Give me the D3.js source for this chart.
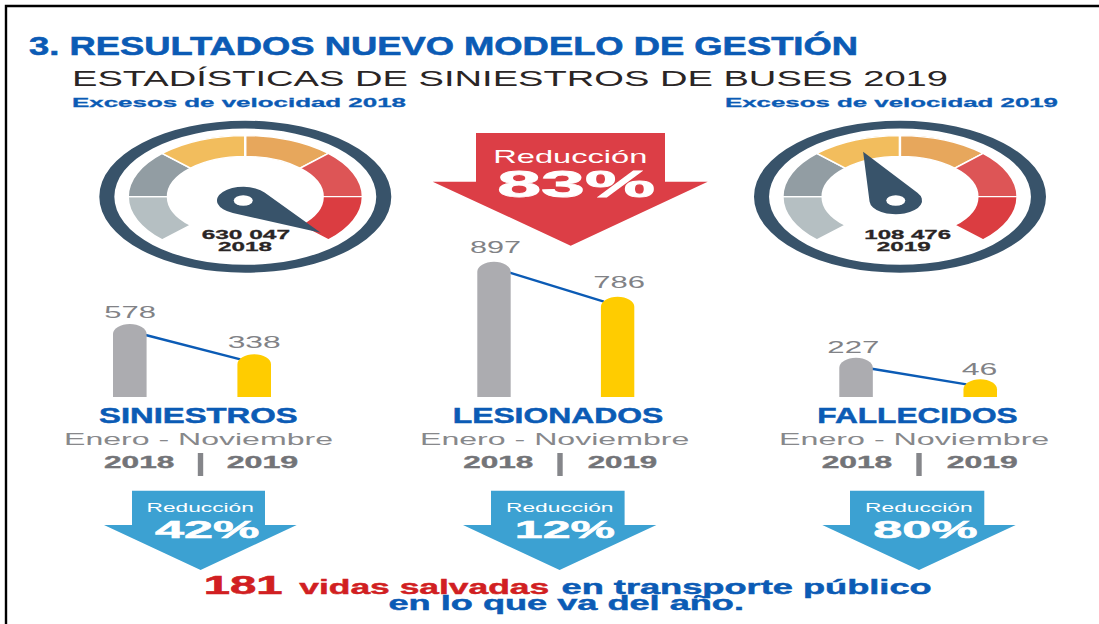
<!DOCTYPE html>
<html lang="es">
<head>
<meta charset="utf-8">
<title>Resultados nuevo modelo de gestión</title>
<script src="https://cdn.jsdelivr.net/npm/d3@7/dist/d3.min.js"></script>
<style>
html,body{margin:0;padding:0;background:#fff;overflow:hidden}
svg{display:block}
text{font-family:"Liberation Sans",Arial,sans-serif}
</style>
</head>
<body>
<svg id="chart" width="1099" height="624"></svg>
<script>
// ---- data ----
const years = ["2018", "2019"];
const categories = ["SINIESTROS", "LESIONADOS", "FALLECIDOS"];
const values2018 = [578, 897, 227];
const values2019 = [338, 786, 46];
const reductions = ["42%", "12%", "80%"];
const speedExcess = [630047, 108476];
const speedExcessLabels = ["630 047", "108 476"];
const gaugeBands = [1, 1, 1, 1, 1, 1];
const overallReduction = "83%";

// ---- style / layout ----
const BLUE = "#0b5bb5", INK = "#2a2525", NAVY = "#38536a", GREY = "#818286";
const bandColors = ["#b5bfc2", "#929da3", "#f2bd5d", "#e7a75c", "#dd5556", "#db3d41"];
const barColors = ["#acacb0", "#ffcc00"];
const svg = d3.select("#chart");

function label(str, x0, x1, base, size, weight, fill) {
  const t = svg.append("text")
    .attr("x", x0).attr("y", base)
    .attr("textLength", x1 - x0).attr("lengthAdjust", "spacingAndGlyphs")
    .attr("font-size", size).attr("font-weight", weight).attr("fill", fill)
    .text(str);
  if (weight === 700) t.attr("stroke", fill).attr("stroke-width", size * 0.022);
  return t;
}
function poly(pts, fill) {
  svg.append("path").attr("d", d3.line()(pts) + "Z").attr("fill", fill);
}

// frame
svg.append("path").attr("d", "M6,624V6H1099").attr("fill", "none").attr("stroke", "#000").attr("stroke-width", 2.4);

// heading
label("3. RESULTADOS NUEVO MODELO DE GESTIÓN", 29, 858, 54.5, 25, 700, BLUE);
label("ESTADÍSTICAS DE SINIESTROS DE BUSES 2019", 72, 948, 86, 21.5, 400, INK);

// ---- gauges ----
const gaugeLayout = [
  {cx: 245.3, hub: -1.4, title: [72, 406], val: [201.7, 290], yr: [218, 272]},
  {cx: 900,   hub: -2.9, title: [725, 1058], val: [864.3, 951], yr: [876.7, 930.7]}
];
const needleAngle = d3.scaleLinear().domain([108476, 630047]).range([-19.2, 128.7]);
const pie = d3.pie().sort(null).startAngle(-135 * Math.PI / 180).endAngle(135 * Math.PI / 180);
const bandArc = d3.arc().innerRadius(53).outerRadius(80.5);
const ringArc = d3.arc().innerRadius(89.7).outerRadius(100).startAngle(0).endAngle(2 * Math.PI);

speedExcess.forEach((v, i) => {
  const L = gaugeLayout[i];
  label("Excesos de velocidad " + years[i], L.title[0], L.title[1], 106.7, 12.5, 700, BLUE);
  const g = svg.append("g").attr("transform", `translate(${L.cx},196.7) scale(1.46,0.76)`);
  g.append("path").attr("d", ringArc()).attr("fill", NAVY);
  g.selectAll("path.band").data(pie(gaugeBands)).join("path")
    .attr("class", "band").attr("d", bandArc)
    .attr("fill", (d, j) => bandColors[j])
    .attr("stroke", "#fff").attr("stroke-width", 1.6);
  const len = 68, r = 18, phi = Math.acos(r / len);
  const tx = r * Math.sin(phi), ty = -r * Math.cos(phi);
  const n = g.append("g").attr("transform", `translate(${L.hub},5) rotate(${needleAngle(v)})`);
  n.append("path").attr("fill", NAVY)
    .attr("d", `M0,${-len}L${tx},${ty}A${r},${r} 0 1 1 ${-tx},${ty}Z`);
  g.append("ellipse").attr("cx", L.hub).attr("cy", 5).attr("rx", 6.5).attr("ry", 7).attr("fill", "#fff");
  label(speedExcessLabels[i], L.val[0], L.val[1], 239, 12.5, 700, INK);
  label(years[i], L.yr[0], L.yr[1], 250.7, 12.5, 700, INK);
});

// ---- big red arrow ----
poly([[476, 133], [665, 133], [665, 181.7], [707.7, 181.7], [570.7, 245.7], [432.7, 181.7], [476, 181.7]], "#dc3e46");
label("Reducción", 493.3, 647.3, 162.7, 18.5, 400, "#fff");
label(overallReduction, 497.3, 655, 196.7, 36, 700, "#fff");

// ---- bar panels ----
const panels = [
  {range: [113, 271],       floor: 0,    top: 324,   gap: 6,   l: [[104.3, 156], [227.7, 280.7]], name: [99, 297.7],   sub: [64, 333],      y1: [104, 174.3],   y2: [226.7, 298.3], sep: 200.5},
  {range: [477.3, 634.3],   floor: 468,  top: 261.7, gap: 8.9, l: [[470, 521], [593.3, 645]],     name: [452.7, 663.3], sub: [420, 689.3],   y1: [463.3, 533.3], y2: [587.7, 657.3], sep: 560},
  {range: [839.3, 997],     floor: -102, top: 357.7, gap: 4.4, l: [[827.3, 879.3], [961.7, 997.3]], name: [817.3, 1017.7], sub: [779, 1049.3], y1: [821.7, 892.3], y2: [946.7, 1017.7], sep: 919}
];
const arrows = [
  {shaft: [132, 265],     head: [104, 296.7],   tip: 200.6, r: [146.6, 253.8], p: [155, 259.5]},
  {shaft: [491, 624.6],   head: [463, 656.4],   tip: 559.6, r: [506, 613.5],   p: [514.8, 615]},
  {shaft: [850, 984.3],   head: [822.3, 1015.7], tip: 919,  r: [865, 972.7],   p: [873.3, 977.7]}
];
const BASE = 397;

categories.forEach((cat, i) => {
  const P = panels[i];
  const vals = [values2018[i], values2019[i]];
  const x = d3.scaleBand().domain(years).range(P.range).paddingInner(0.73);
  const y = d3.scaleLinear().domain([P.floor, values2018[i]]).range([BASE, P.top]);
  const bw = x.bandwidth();

  // connector
  svg.append("path")
    .attr("d", d3.line()([[x(years[0]) + bw - 1, y(vals[0]) + 11], [x(years[1]) + 3, y(vals[1]) + 5]]))
    .attr("fill", "none").attr("stroke", BLUE).attr("stroke-width", 2.4);

  // bars with rounded caps
  svg.selectAll(null).data(vals).join("path")
    .attr("fill", (d, j) => barColors[j])
    .attr("d", (d, j) => {
      const x0 = x(years[j]), top = y(d), ry = Math.min(10, BASE - top);
      return `M${x0},${BASE}V${top + ry}A${bw / 2},${ry} 0 0 1 ${x0 + bw},${top + ry}V${BASE}Z`;
    });

  // value labels
  vals.forEach((v, j) => {
    label(String(v), P.l[j][0], P.l[j][1], y(v) - P.gap, 16.7, 400, GREY);
  });

  label(cat, P.name[0], P.name[1], 423.3, 22, 700, BLUE);
  label("Enero - Noviembre", P.sub[0], P.sub[1], 445, 16.5, 400, "#87888b");
  label(years[0], P.y1[0], P.y1[1], 468.3, 16.5, 700, "#737478");
  label(years[1], P.y2[0], P.y2[1], 468.3, 16.5, 700, "#737478");
  svg.append("rect").attr("x", P.sep - 2.7).attr("y", 453).attr("width", 5.4).attr("height", 23).attr("fill", "#85868a");

  // reduction arrow
  const A = arrows[i];
  poly([[A.shaft[0], 490.7], [A.shaft[1], 490.7], [A.shaft[1], 525], [A.head[1], 525], [A.tip, 570],
        [A.head[0], 525], [A.shaft[0], 525]], "#3ca1d2");
  label("Reducción", A.r[0], A.r[1], 512.3, 13, 400, "#fff");
  label(reductions[i], A.p[0], A.p[1], 538, 24, 700, "#fff");
});

// ---- closing line ----
label("181", 203.7, 282.5, 594.3, 25, 700, "#d11f22");
label("vidas salvadas", 299.3, 549.2, 594.3, 20.5, 700, "#d11f22");
label("en transporte público", 561.5, 931.7, 594.3, 20.5, 700, BLUE);
label("en lo que va del año.", 388.5, 744, 610.3, 20.5, 700, BLUE);
</script>
</body>
</html>
